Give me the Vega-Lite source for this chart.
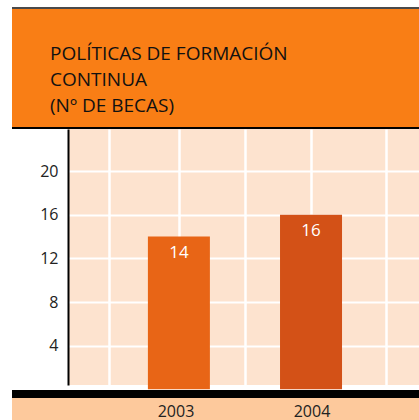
{
  "$schema": "https://vega.github.io/schema/vega-lite/v6.json",
  "padding": {"left": 12, "top": 7, "right": 0, "bottom": 0},
  "spacing": 0,
  "bounds": "full",
  "background": "white",
  "config": {"view": {"stroke": null}, "font": "Open Sans", "concat": {"spacing": 0}},
  "datasets": {
    "becas": [
      {"year": 2003, "value": 14},
      {"year": 2004, "value": 16}
    ],
    "empty": []
  },
  "resolve": {"scale": {"x": "independent", "y": "independent", "color": "independent"}},
  "vconcat": [
    {
      "width": 407, "height": 2,
      "view": {"fill": "#4a4a4a"},
      "data": {"name": "empty"},
      "mark": "point"
    },
    {
      "width": 407, "height": 118,
      "view": {"fill": "#F97E15"},
      "data": {"name": "empty"},
      "mark": "point",
      "title": {
        "text": ["POLÍTICAS DE FORMACIÓN", "CONTINUA", "(Nº DE BECAS)"],
        "anchor": "start",
        "frame": "group",
        "orient": "top",
        "offset": -122,
        "baseline": "alphabetic",
        "lineHeight": 26,
        "dx": 38,
        "font": "Open Sans",
        "fontSize": 19,
        "fontWeight": "normal",
        "color": "#111111"
      }
    },
    {
      "width": 407, "height": 2,
      "view": {"fill": "#000000"},
      "data": {"name": "empty"},
      "mark": "point"
    },
    {
      "spacing": 0,
      "bounds": "full",
      "hconcat": [
        {
          "width": 1, "height": 256,
          "data": {"name": "empty"},
          "mark": "point"
        },
        {
          "width": 351, "height": 256,
          "view": {"fill": "#FDE3CF"},
          "data": {"name": "becas"},
          "encoding": {
            "x": {
              "field": "year", "type": "quantitative",
              "scale": {"domain": [2002.1985, 2004.7794], "nice": false, "zero": false},
              "axis": {
                "values": [2002.47, 2003, 2003.5, 2004, 2004.57],
                "grid": true, "gridColor": "#ffffff", "gridWidth": 2.5, "gridOpacity": 1,
                "labels": false, "ticks": false, "domain": false, "title": null,
                "minExtent": 0, "maxExtent": 0
              }
            },
            "y": {
              "field": "value", "type": "quantitative",
              "scale": {"domain": [0.4, 23.85], "nice": false, "zero": false},
              "axis": {
                "values": [4, 8, 12, 16, 20],
                "grid": true, "gridColor": "#ffffff", "gridWidth": 2, "gridOpacity": 1,
                "ticks": false, "domain": true, "domainColor": "#000000", "domainWidth": 2,
                "labelFont": "Open Sans", "labelFontSize": 16, "labelColor": "#222222",
                "labelPadding": 10, "title": null,
                "minExtent": 55, "maxExtent": 55
              }
            }
          },
          "layer": [
            {
              "mark": {"type": "bar", "width": 62},
              "encoding": {
                "color": {
                  "field": "year", "type": "nominal",
                  "scale": {"domain": [2003, 2004], "range": ["#E86516", "#D35117"]},
                  "legend": null
                }
              }
            },
            {
              "mark": {"type": "text", "baseline": "alphabetic", "dy": 21, "color": "#ffffff", "fontSize": 17, "font": "Open Sans"},
              "encoding": {
                "text": {"field": "value", "type": "quantitative"}
              }
            }
          ]
        }
      ]
    },
    {
      "width": 407, "height": 8,
      "view": {"fill": "#000000"},
      "data": {"name": "empty"},
      "mark": "point"
    },
    {
      "width": 407, "height": 27,
      "view": {"fill": "#FDC99C"},
      "data": {"name": "becas"},
      "mark": {"type": "text", "baseline": "middle", "fontSize": 16, "color": "#222222", "font": "Open Sans"},
      "encoding": {
        "x": {
          "field": "year", "type": "quantitative",
          "scale": {"domain": [2001.794, 2004.7867], "nice": false, "zero": false},
          "axis": null
        },
        "text": {"field": "year", "type": "nominal"}
      }
    }
  ]
}
